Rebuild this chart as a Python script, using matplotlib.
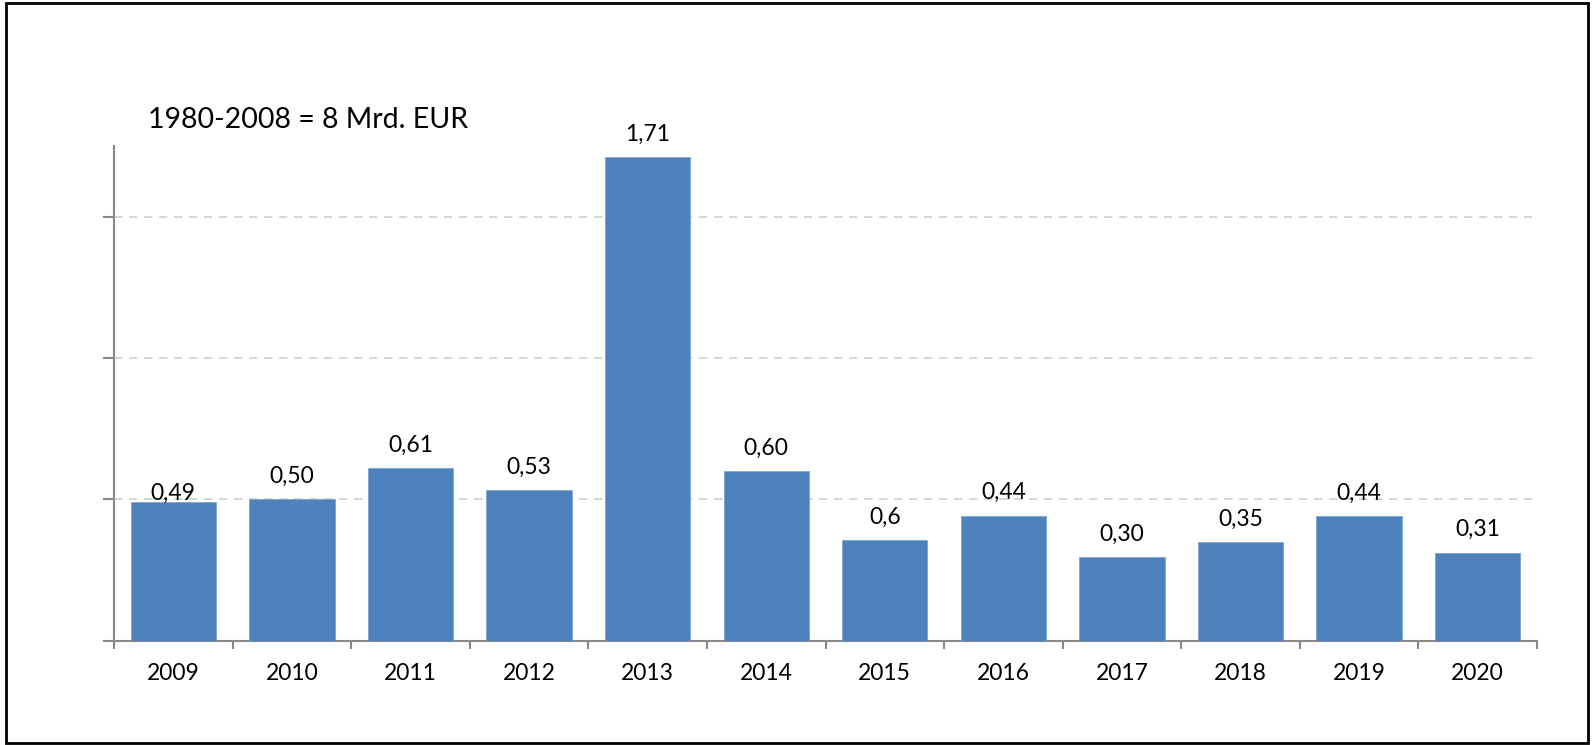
import matplotlib as mpl
import numpy as np
from matplotlib import pyplot as plt
from matplotlib.patches import Rectangle

mpl.rcParams['font.family'] = ['Lato', 'DejaVu Sans']

years = ['2009', '2010', '2011', '2012', '2013', '2014',
         '2015', '2016', '2017', '2018', '2019', '2020']
values = [0.49, 0.50, 0.61, 0.532, 1.71, 0.60,
          0.356, 0.442, 0.295, 0.349, 0.44, 0.311]
labels = ['0,49', '0,50', '0,61', '0,53', '1,71', '0,60',
          '0,6', '0,44', '0,30', '0,35', '0,44', '0,31']
note = '1980-2008 = 8 Mrd. EUR'

W, H = 1595, 745
fig = plt.figure(figsize=(W / 100, H / 100), dpi=100, facecolor='white')
ax = fig.add_axes([114 / W, 1 - 640.7 / H, (1537 - 114) / W, (640.7 - 146) / H])

x = np.arange(len(years))
ax.bar(x, values, width=0.72, color='#4F81BD', edgecolor='#7FA3D3', linewidth=0.6, zorder=3)

# value labels, 2009 label sits almost on the bar
for i, (v, lab) in enumerate(zip(values, labels)):
    off = -1 if i == 0 else 9
    ax.annotate(lab, xy=(i, v), xytext=(0, off), textcoords='offset points',
                ha='center', va='bottom', fontsize=16.5, zorder=4)

ax.set_xlim(-0.5, len(years) - 0.5)
ax.set_ylim(0, 1.75)

# category ticks between bars, labels centred
ax.set_xticks(np.arange(-0.5, len(years)), minor=False)
ax.set_xticklabels([])
ax.set_xticks(x, minor=True)
ax.set_xticklabels(years, minor=True, fontsize=16.5)
ax.tick_params(axis='x', which='major', direction='out', length=6, width=1.5, color='#888888')
ax.tick_params(axis='x', which='minor', length=0, pad=16)

ax.set_yticks([0, 0.5, 1.0, 1.5])
ax.set_yticklabels([])
ax.tick_params(axis='y', direction='out', length=8, width=1.5, color='#888888')
ax.grid(axis='y', color='#D0D0D0', linestyle=(0, (5, 4)), linewidth=1.2, zorder=0)

for side in ['top', 'right']:
    ax.spines[side].set_visible(False)
for side in ['left', 'bottom']:
    ax.spines[side].set_color('#888888')
    ax.spines[side].set_linewidth(1.5)

fig.text(148 / W, 1 - 120 / H, note, ha='left', va='center', fontsize=20.5)

# outer frame
fig.patches.append(Rectangle((6 / W, 2 / H), (1588 - 6) / W, (743 - 3) / H,
                             transform=fig.transFigure, fill=False,
                             edgecolor='black', linewidth=2))

fig.savefig('out.png', dpi=100, facecolor='white')
